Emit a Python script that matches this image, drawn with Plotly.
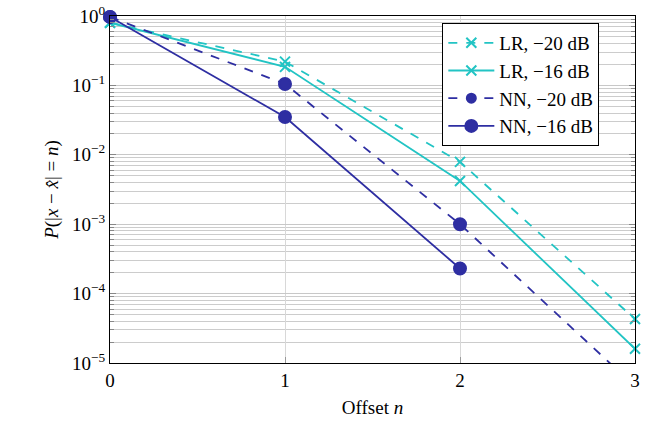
import plotly.graph_objects as go

offsets = [0, 1, 2, 3]
lr_20 = [0.80, 0.22, 7.9e-3, 4.3e-5]
lr_16 = [0.80, 0.185, 4.2e-3, 1.6e-5]
nn_20 = [0.97, 0.105, 1.0e-3, 4.6e-6]
nn_16 = [0.97, 0.035, 2.3e-4]

names = ["LR, \u221220 dB", "LR, \u221216 dB", "NN, \u221220 dB", "NN, \u221216 dB"]
ytick_vals = [1, 1e-1, 1e-2, 1e-3, 1e-4, 1e-5]
ytick_text = ["10<sup>0</sup>", "10<sup>\u22121</sup>", "10<sup>\u22122</sup>",
              "10<sup>\u22123</sup>", "10<sup>\u22124</sup>", "10<sup>\u22125</sup>"]

CYAN = "#22C4C4"
NAVY = "#2E2EA2"
YMIN = 1e-5

def sizes(vals, s):
    return [s if v >= YMIN else 0 for v in vals]

fig = go.Figure()
series = [
    (lr_20, names[0], CYAN, "dash", "x-thin", 10),
    (lr_16, names[1], CYAN, "solid", "x-thin", 10),
    (nn_20, names[2], NAVY, "dash", "circle", 12),
    (nn_16, names[3], NAVY, "solid", "circle", 12),
]
for vals, name, col, dash, sym, sz in series:
    fig.add_trace(go.Scatter(
        x=offsets[:len(vals)], y=vals, name=name, mode="lines+markers",
        line=dict(color=col, width=1.8, dash=dash),
        marker=dict(symbol=sym, size=sizes(vals, sz), color=col, opacity=1,
                    line=dict(color=col, width=2)),
        cliponaxis=False,
    ))

font = "Liberation Serif, DejaVu Serif, serif"
fig.update_layout(
    width=655, height=426,
    margin=dict(l=110, r=20, t=16, b=63),
    paper_bgcolor="white", plot_bgcolor="white",
    font=dict(family=font, size=19, color="black"),
    showlegend=True,
    legend=dict(x=0.633, y=0.98, xanchor="left", yanchor="top",
                bordercolor="black", borderwidth=1, bgcolor="white",
                font=dict(size=19, family=font), tracegroupgap=0,
                itemwidth=46),
    xaxis=dict(range=[0, 3], tickvals=offsets, ticktext=[str(o) for o in offsets],
               showgrid=True, gridcolor="#D8D8D8", gridwidth=1,
               ticks="inside", ticklen=6, tickcolor="#999999",
               showline=True, linecolor="black", linewidth=1, mirror=True,
               zeroline=False, automargin=False,
               title=dict(text="Offset <i>n</i>", standoff=10, font=dict(size=19))),
    yaxis=dict(type="log", range=[-5, 0], tickvals=ytick_vals, ticktext=ytick_text,
               showgrid=True, gridcolor="#C8C8C8", gridwidth=1,
               ticks="inside", ticklen=6, tickcolor="#888888",
               showline=True, linecolor="black", linewidth=1, mirror="allticks",
               zeroline=False, automargin=False,
               minor=dict(dtick="D1", showgrid=True, gridcolor="#CCCCCC",
                          ticks="inside", ticklen=4, tickcolor="#888888"),
               title=dict(text="<i>P</i>(|<i>x</i> \u2212 <i>x\u0302</i>| = <i>n</i>)",
                          standoff=8, font=dict(size=19))),
)

fig.write_html("out.html", config={"displayModeBar": False},
               post_script="document.body.style.margin='0';")
